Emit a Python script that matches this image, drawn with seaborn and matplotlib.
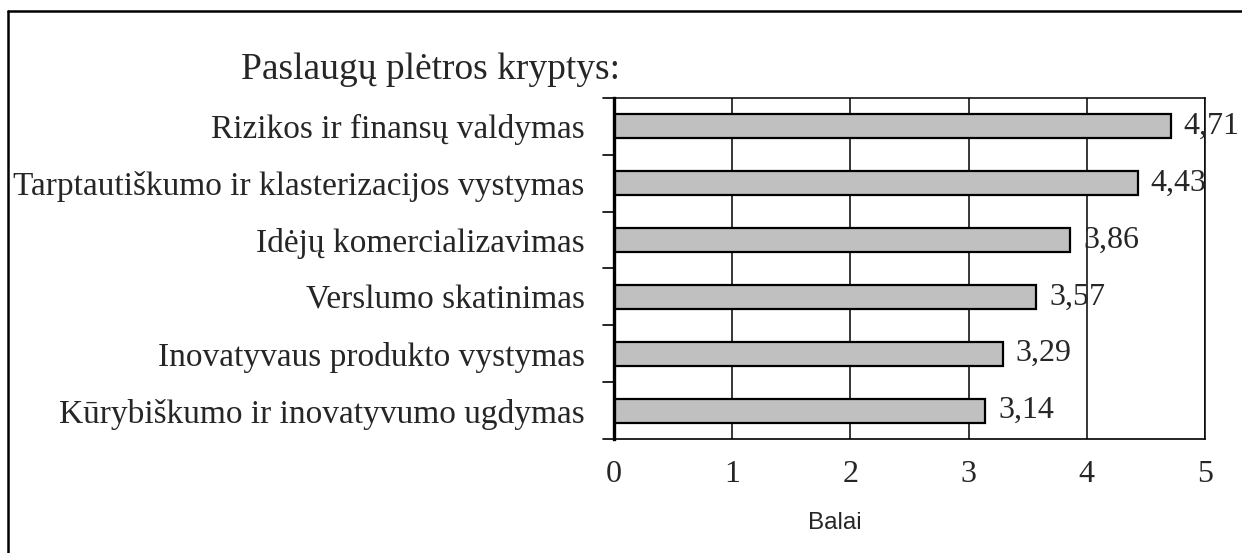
import matplotlib
matplotlib.use('Agg')
import matplotlib.pyplot as plt
import matplotlib.lines as mlines
import seaborn as sns
import pandas as pd

# Data
kryptys = ['Rizikos ir finansų valdymas',
           'Tarptautiškumo ir klasterizacijos vystymas',
           'Idėjų komercializavimas',
           'Verslumo skatinimas',
           'Inovatyvaus produkto vystymas',
           'Kūrybiškumo ir inovatyvumo ugdymas']
balai = [4.71, 4.43, 3.86, 3.57, 3.29, 3.14]
x_ticks = [0, 1, 2, 3, 4, 5]

df = pd.DataFrame({'Kryptis': kryptys, 'Balai': balai})

sns.set_style('white')
serif = ['Liberation Serif', 'DejaVu Serif']
sans = ['Liberation Sans', 'DejaVu Sans']

W, H = 1242, 553
fig = plt.figure(figsize=(W / 100, H / 100), dpi=100)
ax = fig.add_axes([614 / W, 1 - 439 / H, (1205 - 614) / W, (439 - 98) / H])

sns.barplot(data=df, x='Balai', y='Kryptis', orient='h', color='#c0c0c0',
            edgecolor='black', linewidth=1.6, width=0.42, saturation=1, ax=ax)

ax.set_xlim(0, 5)
ax.set_ylim(5.5, -0.5)
ax.set_xticks(x_ticks)
ax.set_xticklabels([str(t) for t in x_ticks], family=serif, fontsize=23)
ax.set_yticks(range(len(kryptys)))
ax.set_yticklabels(kryptys, family=serif, fontsize=24)
ax.tick_params(axis='y', length=0, pad=21)
ax.tick_params(axis='x', length=6, width=1.2, direction='out', pad=9)

# category separator ticks on the left
for b in [i + 0.5 for i in range(-1, len(kryptys))]:
    ax.plot([-11 / 591, 0], [b, b], color='black', lw=1.2, clip_on=False,
            transform=ax.get_yaxis_transform())

# vertical grid
ax.grid(axis='x', color='black', linewidth=1.1)
ax.set_axisbelow(True)
for s in ax.spines.values():
    s.set_color('black')
    s.set_linewidth(1.1)
ax.spines['left'].set_linewidth(2.4)
ax.spines['bottom'].set_linewidth(1.2)

# value labels
for i, v in enumerate(balai):
    ax.text(v + 0.11, i, f'{v:.2f}'.replace('.', ','), va='center', ha='left',
            family=serif, fontsize=23)

ax.set_ylabel('')
ax.set_xlabel('Balai', family=sans, fontsize=17.5)
ax.xaxis.set_label_coords((835 - 614) / 591, (439 - 523) / 341)
ax.xaxis.label.set_va('center')

fig.text(620 / W, 1 - 70 / H, 'Paslaugų plėtros kryptys:', ha='right',
         va='center', family=serif, fontsize=27)

# outer frame
fig.add_artist(mlines.Line2D([8 / W, 8 / W], [0, 1 - 11 / H], color='black', lw=1.8))
fig.add_artist(mlines.Line2D([8 / W, 1], [1 - 11 / H, 1 - 11 / H], color='black', lw=1.8))

fig.savefig('out.png', dpi=100)
